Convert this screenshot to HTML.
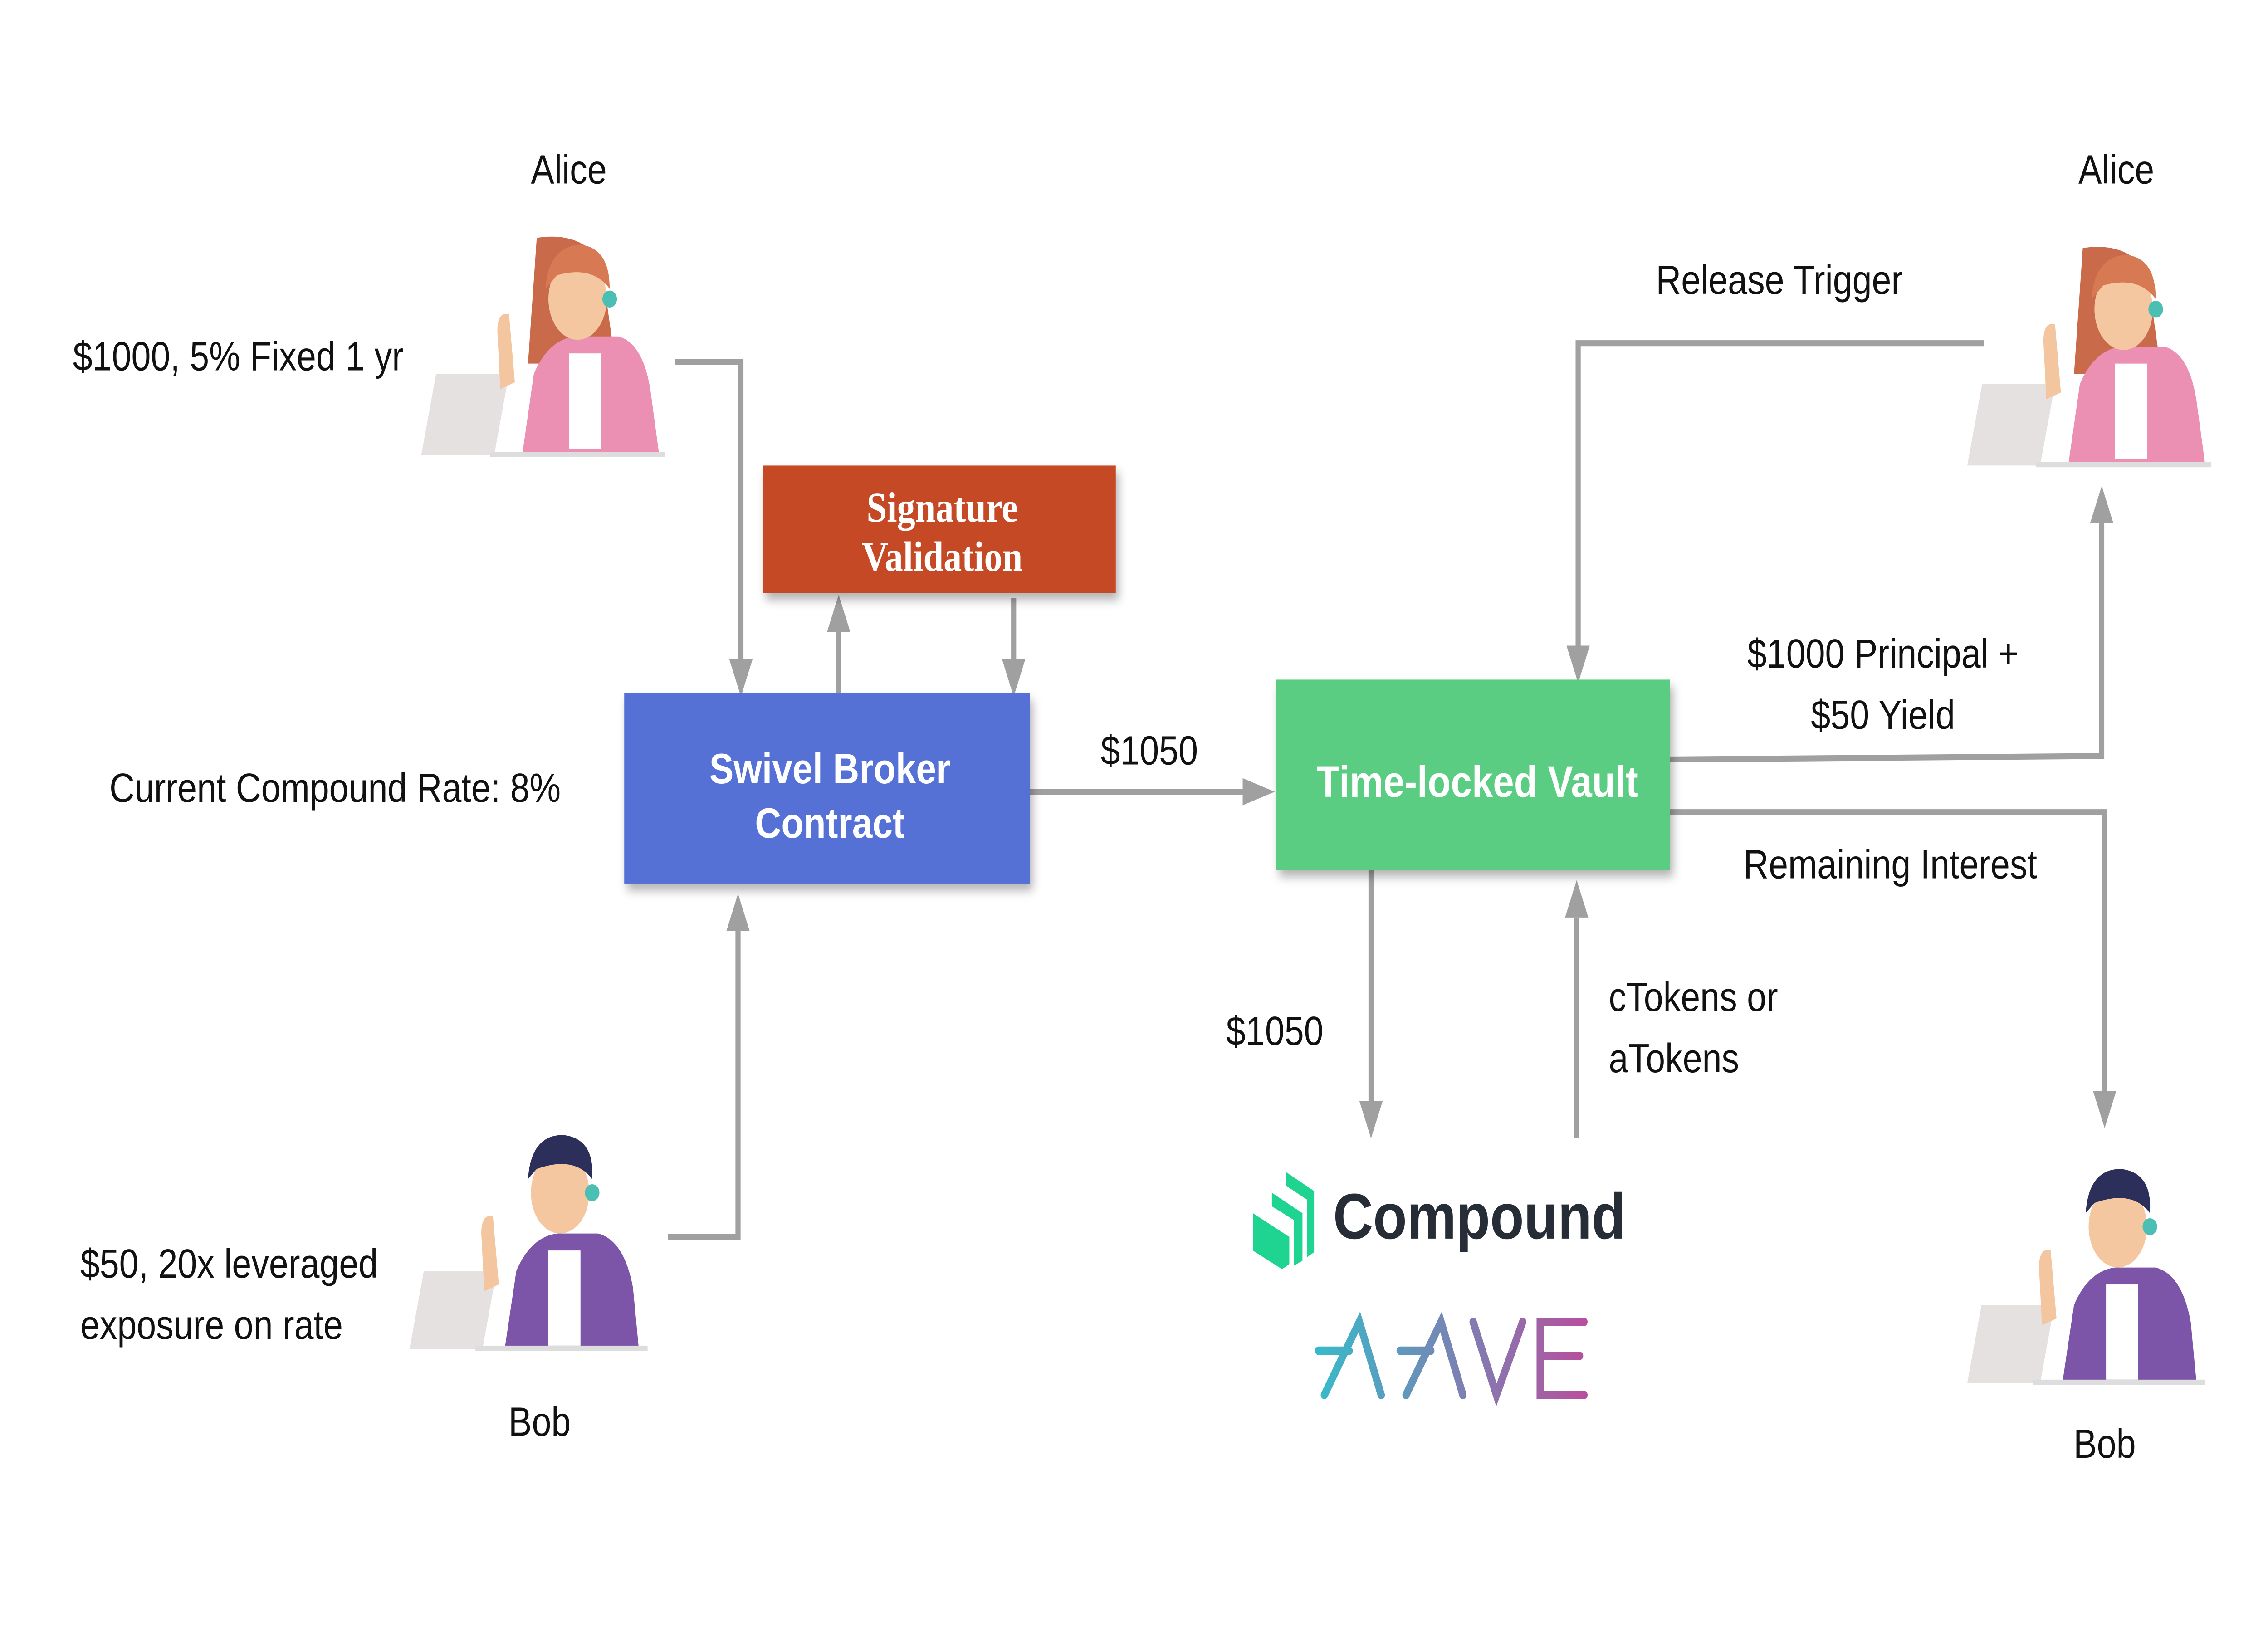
<!DOCTYPE html>
<html><head><meta charset="utf-8"><style>
html,body{margin:0;padding:0;background:#fff;overflow:hidden;width:100%;height:100%}
svg{display:block;position:absolute;left:0;top:0;width:100vw;height:100vh}
text{font-family:"Liberation Sans",sans-serif;fill:#111}
</style></head><body>
<svg viewBox="0 0 1555 957" preserveAspectRatio="none" xmlns="http://www.w3.org/2000/svg">
<defs>
<linearGradient id="ag" gradientUnits="userSpaceOnUse" x1="906" x2="1086" y1="0" y2="0"><stop offset="0" stop-color="#3ab8c9"/><stop offset="1" stop-color="#b6509e"/></linearGradient>
<filter id="sh" x="-10%" y="-10%" width="130%" height="140%"><feDropShadow dx="2" dy="4" stdDeviation="3" flood-color="#000" flood-opacity="0.3"/></filter>
<g id="girl">
<path d="M72 0 q30 -4 44 14 l10 60 l-60 0 z" fill="#c96a4a"/>
<rect x="20" y="80" width="50" height="48" fill="#e5e1e1" transform="skewX(-12)"/>
<path d="M45 55 q0 -12 8 -10 l4 40 l-10 4 z" fill="#f3c6a0"/>
<path d="M62 128 L70 80 Q80 60 98 58 L128 58 Q145 62 150 90 L156 128 Z" fill="#eb8fb3"/>
<rect x="94" y="68" width="22" height="56" fill="#fff"/>
<ellipse cx="100" cy="36" rx="20" ry="24" fill="#f4c7a0"/>
<path d="M78 30 Q80 5 102 4 Q122 6 122 30 Q110 16 86 22 Z" fill="#d77a53"/>
<circle cx="122" cy="36" r="5" fill="#4bbfb4"/>
<rect x="40" y="126" width="120" height="3" fill="#ddd"/>
</g>
<g id="boy">
<rect x="20" y="82" width="50" height="46" fill="#e5e1e1" transform="skewX(-12)"/>
<path d="M42 60 q0 -12 8 -10 l4 40 l-10 4 z" fill="#f3c6a0"/>
<path d="M58 128 L66 82 Q76 62 94 60 L122 60 Q140 64 146 92 L150 128 Z" fill="#7c55a8"/>
<rect x="88" y="70" width="22" height="56" fill="#fff"/>
<ellipse cx="96" cy="36" rx="20" ry="24" fill="#f4c7a0"/>
<path d="M74 28 Q76 2 98 2 Q120 4 118 28 Q106 14 80 22 Z" fill="#2b2f5a"/>
<circle cx="118" cy="36" r="5" fill="#4bbfb4"/>
<rect x="38" y="126" width="118" height="3" fill="#ddd"/>
</g>
<g id="ah"><path d="M-8 -22 L8 -22 L0 0 Z" fill="#a0a0a0"/></g>
</defs>

<use href="#girl" x="296" y="140"/>
<use href="#boy" x="288" y="666"/>
<use href="#girl" x="1356" y="146"/>
<use href="#boy" x="1356" y="686"/>

<g stroke="#a0a0a0" stroke-width="3.5" fill="none">
<polyline points="463,213 508,213 508,390"/>
<line x1="575" y1="408" x2="575" y2="370"/>
<line x1="695" y1="352" x2="695" y2="390"/>
<polyline points="458,728 506,728 506,546"/>
<line x1="706" y1="466" x2="854" y2="466"/>
<polyline points="1360,202 1082,202 1082,382"/>
<polyline points="1145,447 1441,445 1441,308"/>
<polyline points="1145,478 1443,478 1443,642"/>
<line x1="940" y1="512" x2="940" y2="648"/>
<line x1="1081" y1="670" x2="1081" y2="540"/>
</g>
<g fill="#a0a0a0">
<use href="#ah" transform="translate(508,410)"/>
<use href="#ah" transform="translate(575,350) rotate(180)"/>
<use href="#ah" transform="translate(695,410)"/>
<use href="#ah" transform="translate(506,526) rotate(180)"/>
<use href="#ah" transform="translate(874,466) rotate(-90)"/>
<use href="#ah" transform="translate(1082,402)"/>
<use href="#ah" transform="translate(1441,286) rotate(180)"/>
<use href="#ah" transform="translate(1443,664)"/>
<use href="#ah" transform="translate(940,670)"/>
<use href="#ah" transform="translate(1081,518) rotate(180)"/>
</g>

<rect x="523" y="274" width="242" height="75" fill="#c64a27" filter="url(#sh)"/>
<rect x="428" y="408" width="278" height="112" fill="#5471d6" filter="url(#sh)"/>
<rect x="875" y="400" width="270" height="112" fill="#5acd83" filter="url(#sh)"/>
<g font-weight="bold" text-anchor="middle">
<text x="646" y="307" style="fill:#fff;font-family:'Liberation Serif',serif" font-size="25">Signature</text>
<text x="646" y="336" style="fill:#fff;font-family:'Liberation Serif',serif" font-size="25">Validation</text>
<text x="569" y="461" style="fill:#fff" font-size="25">Swivel Broker</text>
<text x="569" y="493" style="fill:#fff" font-size="25">Contract</text>
<text x="1013" y="469" style="fill:#fff" font-size="26">Time-locked Vault</text>
</g>

<g font-size="24">
<text x="390" y="108" text-anchor="middle">Alice</text>
<text x="50" y="218">$1000, 5% Fixed 1 yr</text>
<text x="75" y="472">Current Compound Rate: 8%</text>
<text x="55" y="752">$50, 20x leveraged</text>
<text x="55" y="788">exposure on rate</text>
<text x="370" y="845" text-anchor="middle">Bob</text>
<text x="788" y="450" text-anchor="middle">$1050</text>
<text x="1220" y="173" text-anchor="middle">Release Trigger</text>
<text x="1451" y="108" text-anchor="middle">Alice</text>
<text x="1291" y="393" text-anchor="middle">$1000 Principal +</text>
<text x="1291" y="429" text-anchor="middle">$50 Yield</text>
<text x="1296" y="517" text-anchor="middle">Remaining Interest</text>
<text x="874" y="615" text-anchor="middle">$1050</text>
<text x="1103" y="595">cTokens or</text>
<text x="1103" y="631">aTokens</text>
<text x="1443" y="858" text-anchor="middle">Bob</text>
</g>

<g fill="#1fd390">
<path d="M882 690 L901 701 L901 737 L896 740 L896 706 L882 698 Z"/>
<path d="M872 702 L893 714 L893 742 L887 745 L887 718 L872 710 Z"/>
<path d="M859 714 L884 728 L884 744 L879 747 L859 736 Z"/>
</g>
<text x="914" y="729" font-size="38" font-weight="bold" style="fill:#272d36">Compound</text>

<g stroke="url(#ag)" stroke-width="5" stroke-linecap="round" fill="none">
<path d="M908 821 L932 778 L947 821 M904 795 L925 795"/>
<path d="M964 821 L988 778 L1003 821 M960 795 L981 795"/>
<path d="M1010 778 L1026 821 L1044 778"/>
<path d="M1086 778 L1056 778 L1056 821 L1086 821 M1056 798 L1083 798"/>
</g>
</svg>
</body></html>
